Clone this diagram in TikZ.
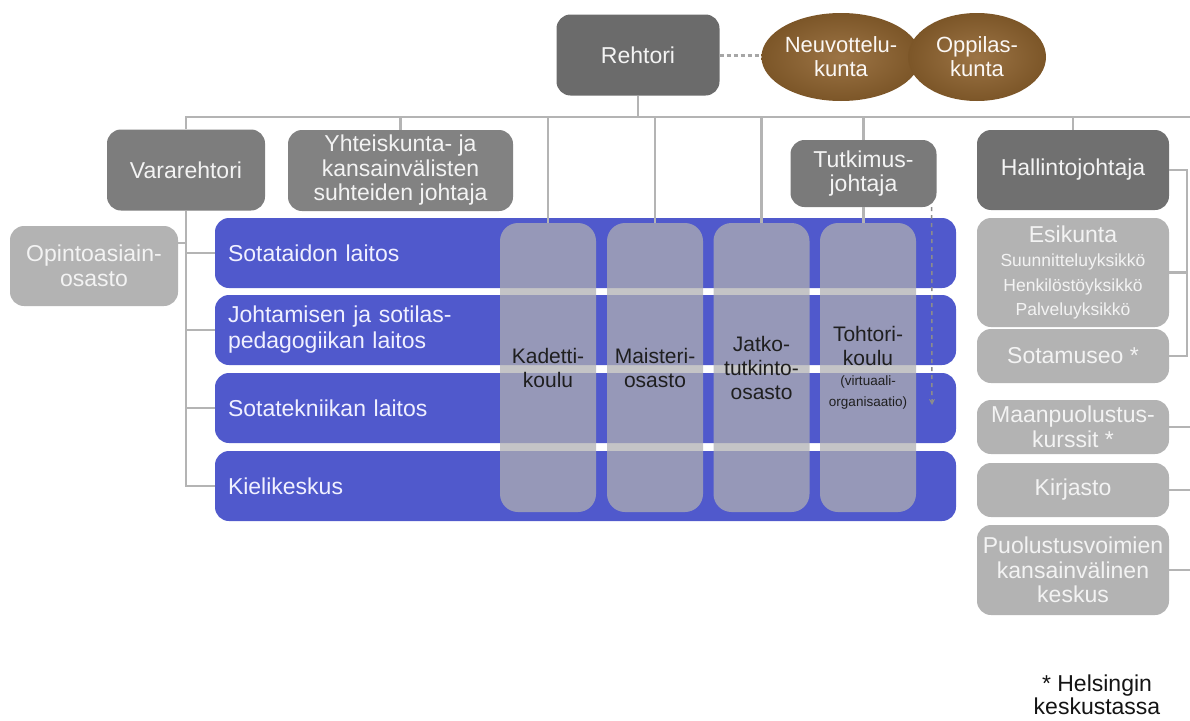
\documentclass[tikz,border=0pt]{standalone}
\usepackage{fontspec}
\setmainfont{Liberation Sans}
\usetikzlibrary{shapes.geometric,arrows.meta,calc}

\definecolor{rowblue}{HTML}{5059CC}
\definecolor{colgray}{HTML}{AFAFB2}
\definecolor{lightbox}{HTML}{B3B3B3}
\definecolor{linegray}{HTML}{B4B4B4}
\definecolor{brownA}{HTML}{9C7445}
\definecolor{brownB}{HTML}{7C5628}
\definecolor{paletext}{HTML}{F3F3F3}

\newcommand{\smallsub}{\fontsize{13.5}{16}\selectfont}
\newcommand{\unitsub}{\fontsize{17.5}{24.5}\selectfont}

\tikzset{
  box/.style={rectangle, rounded corners=14, draw=none, align=center,
    text=paletext, inner sep=2, font=\fontsize{23}{24.5}\selectfont},
  darkbox/.style={box, fill=#1},
  lbox/.style={box, fill=lightbox, minimum width=192},
  rowbox/.style={rectangle, rounded corners=14, fill=rowblue, draw=none,
    minimum width=741, minimum height=70, inner xsep=13, inner ysep=0,
    text width=715, align=left, text=white!94!blue,
    font=\fontsize{23}{26}\selectfont},
  colbox/.style={rectangle, rounded corners=18, fill=colgray, fill opacity=0.74,
    text opacity=1, minimum width=96, minimum height=289, inner sep=0,
    align=center, text=black!88, font=\fontsize{21}{24}\selectfont},
  council/.style={ellipse, minimum height=88, inner sep=0, minimum width=#1,
    shading=radial, inner color=brownA, outer color=brownB,
    text=white!94!brown, align=center, font=\fontsize{22}{24}\selectfont},
  conn/.style={draw=linegray, line width=2.5},
}

\begin{document}
\begin{tikzpicture}[x=1pt, y=-1pt]
\useasboundingbox (0,0) rectangle (1190,720);

% top level
\node[darkbox=black!58, minimum width=163, minimum height=81] (rector) at (638,55) {Rehtori};
\node[council=142] (neuv) at (841,57) {Neuvottelu-\\kunta};
\node[council=138] (oppi) at (977,57) {Oppilas-\\kunta};

% second level
\node[darkbox=black!51, minimum width=158, minimum height=81] (vice) at (186,170) {Vararehtori};
\node[darkbox=black!49, minimum width=225, minimum height=81] (intl) at (400.5,170.5)
  {Yhteiskunta- ja\\kansainvälisten\\suhteiden johtaja};
\node[darkbox=black!52, minimum width=146, minimum height=67] (research) at (863.5,173.5)
  {Tutkimus-\\johtaja};
\node[darkbox=black!56, minimum width=192, minimum height=80] (admin) at (1073,170)
  {Hallintojohtaja};

\node[box, fill=lightbox, minimum width=168, minimum height=80] (study) at (94,266)
  {Opintoasiain-\\osasto};

% departments
\node[rowbox] (dep1) at (585.5,253) {Sotataidon laitos};
\node[rowbox] (dep2) at (585.5,330) {Johtamisen ja sotilas-\\pedagogiikan laitos};
\node[rowbox] (dep3) at (585.5,408) {Sotatekniikan laitos};
\node[rowbox] (dep4) at (585.5,486) {Kielikeskus};

% degree programmes across the departments
\node[colbox] (cadet) at (548,367.5) {Kadetti-\\koulu};
\node[colbox] (master) at (655,367.5) {Maisteri-\\osasto};
\node[colbox] (postgrad) at (761.5,367.5) {Jatko-\\tutkinto-\\osasto};
\node[colbox] (doctoral) at (868,367.5)
  {Tohtori-\\koulu\\[-4pt]\smallsub (virtuaali-\\[-3pt]\smallsub organisaatio)};

% administration
\node[lbox, minimum height=109] (staff) at (1073,272.5)
  {Esikunta\\[0pt]\unitsub Suunnitteluyksikkö\\[0pt]\unitsub Henkilöstöyksikkö\\[0pt]\unitsub Palveluyksikkö};
\node[lbox, minimum height=54] (museum) at (1073,356) {Sotamuseo *};
\node[lbox, minimum height=54] (courses) at (1073,427) {Maanpuolustus-\\kurssit *};
\node[lbox, minimum height=54] (library) at (1073,490) {Kirjasto};
\node[lbox, minimum height=90] (centre) at (1073,570)
  {Puolustusvoimien\\kansainvälinen\\keskus};

\node[font=\fontsize{23}{23.5}\selectfont, align=center, text=black!92] (note) at (1097,695)
  {* Helsingin\\keskustassa};

% connectors
\coordinate (busR) at (1190,117);
\coordinate (admR) at (1187,170);
\draw[draw=black!35, line width=3, dash pattern=on 4 off 3] (rector.east) -- (rector.east -| neuv.west);
\draw[conn] (rector.south) -- (rector.south |- busR);
\draw[conn] (vice.north) |- (busR);
\draw[conn] (intl.north) -- (intl.north |- busR);
\draw[conn] (cadet.north) -- (cadet.north |- busR);
\draw[conn] (master.north) -- (master.north |- busR);
\draw[conn] (postgrad.north) -- (postgrad.north |- busR);
\draw[conn] (research.north) -- (research.north |- busR);
\draw[conn] (admin.north) -- (admin.north |- busR);
\draw[conn] (research.south) -- (research.south |- doctoral.north);

\draw[conn] (vice.south) |- (dep4.west);
\draw[conn] (dep1.west) -- (dep1.west -| vice.south);
\draw[conn] (dep2.west) -- (dep2.west -| vice.south);
\draw[conn] (dep3.west) -- (dep3.west -| vice.south);
\draw[conn] ([yshift=23pt]study.east) -- ([yshift=23pt]study.east -| vice.south);

\draw[conn] (admin.east) -- (admR) |- (museum.east);
\draw[conn] (staff.east) -- (staff.east -| admR);
\draw[conn] (courses.east) -- (courses.east -| busR);
\draw[conn] (library.east) -- (library.east -| busR);
\draw[conn] (centre.east) -- (centre.east -| busR);

\coordinate (resA) at ([xshift=-5pt]research.south east);
\coordinate (resB) at (932,405);
\draw[draw=black!45, line width=1.5, dash pattern=on 4 off 4,
  -{Stealth[length=6, width=6]}] (resA) -- (resB);
\end{tikzpicture}
\end{document}
